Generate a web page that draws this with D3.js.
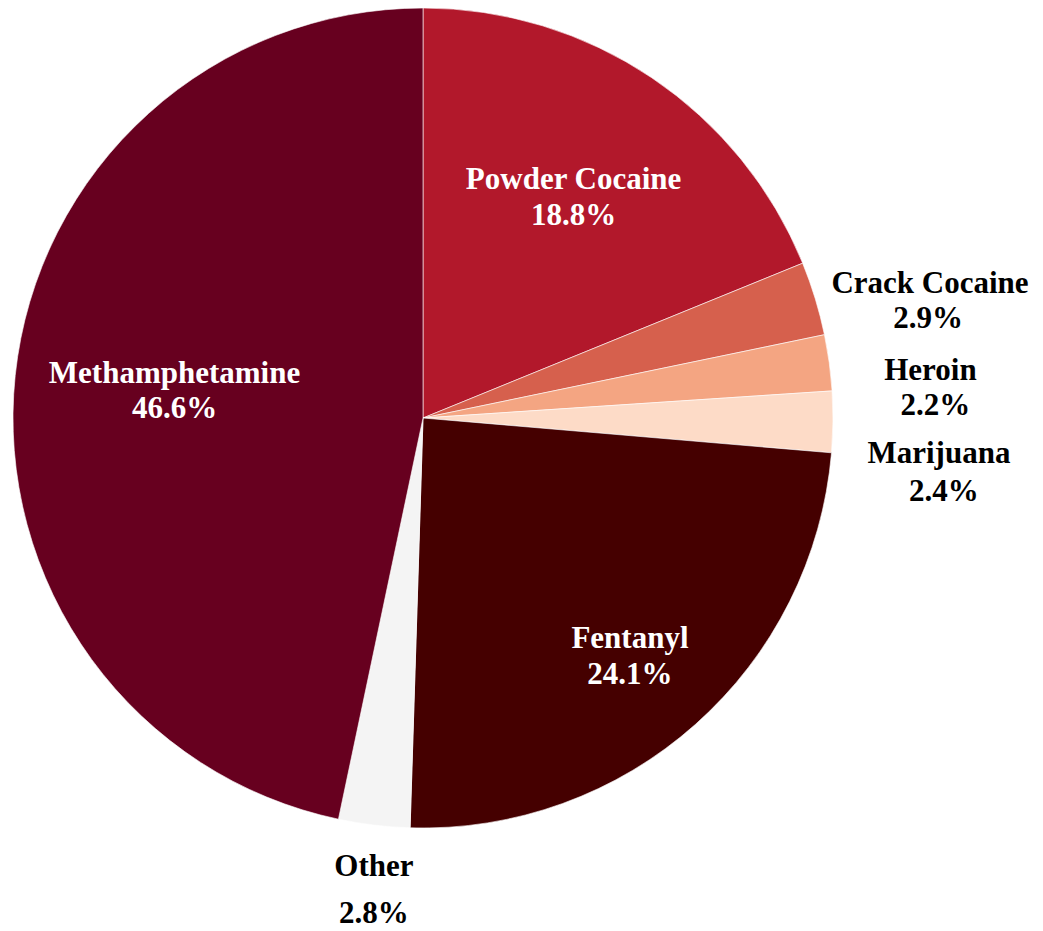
<!DOCTYPE html>
<html><head><meta charset="utf-8">
<script src="https://cdn.jsdelivr.net/npm/d3@7"></script>
<style>body{margin:0;background:#fff}svg{display:block}</style>
</head><body>
<script>
const categories = ["Powder Cocaine","Crack Cocaine","Heroin","Marijuana","Fentanyl","Other","Methamphetamine"];
const values = [18.8, 2.9, 2.2, 2.4, 24.1, 2.8, 46.6];
const valueLabels = ["18.8%","2.9%","2.2%","2.4%","24.1%","2.8%","46.6%"];
const colors = ["#B2182B","#D6604D","#F4A582","#FDDBC7","#450000","#F4F4F4","#67001F"];
// label placement: radius factor (of pie radius), angle shift (deg), line gap, value x shift
const labelPlace = [
  {rf:0.655, da:0.2, gap:36, fill:"#fff", vx:0},
  {rf:1.27, da:3.8, gap:35, fill:"#000", vx:-2},
  {rf:1.24, da:4.2, gap:35, fill:"#000", vx:5},
  {rf:1.265, da:5.3, gap:38, fill:"#000", vx:5},
  {rf:0.767, da:0.5, gap:36, fill:"#fff", vx:0},
  {rf:1.155, da:-0.9, gap:47, fill:"#000", vx:0},
  {rf:0.61, da:0.6, gap:35, fill:"#fff", vx:0}
];
const W=1043,H=931,cx=423,cy=418,R=410,FS=31;
const svg=d3.select("body").append("svg").attr("width",W).attr("height",H);
const g=svg.append("g").attr("transform",`translate(${cx},${cy})`);
const pie=d3.pie().sort(null).value(d=>d)(values);
const arc=d3.arc().innerRadius(0).outerRadius(R);
g.selectAll("path").data(pie).join("path").attr("d",arc)
  .attr("fill",(d,i)=>colors[i]).attr("stroke","#fff").attr("stroke-width",0.6);
const lab=g.selectAll("g.lab").data(pie).join("g").attr("class","lab")
  .attr("transform",(d,i)=>{
    const p=labelPlace[i];
    const a=(d.startAngle+d.endAngle)/2 + p.da*Math.PI/180;
    const r=R*p.rf;
    return `translate(${r*Math.sin(a)},${-r*Math.cos(a)})`;
  });
const ff="'Liberation Serif','Times New Roman',serif";
lab.append("text").attr("text-anchor","middle").attr("y",(d,i)=>-labelPlace[i].gap/2+11)
  .attr("font-family",ff).attr("font-weight","bold")
  .attr("font-size",FS).attr("fill",(d,i)=>labelPlace[i].fill).text((d,i)=>categories[i]);
lab.append("text").attr("text-anchor","middle").attr("x",(d,i)=>labelPlace[i].vx).attr("y",(d,i)=>labelPlace[i].gap/2+11)
  .attr("font-family",ff).attr("font-weight","bold")
  .attr("font-size",FS).attr("fill",(d,i)=>labelPlace[i].fill).text((d,i)=>valueLabels[i]);
</script>
</body></html>
